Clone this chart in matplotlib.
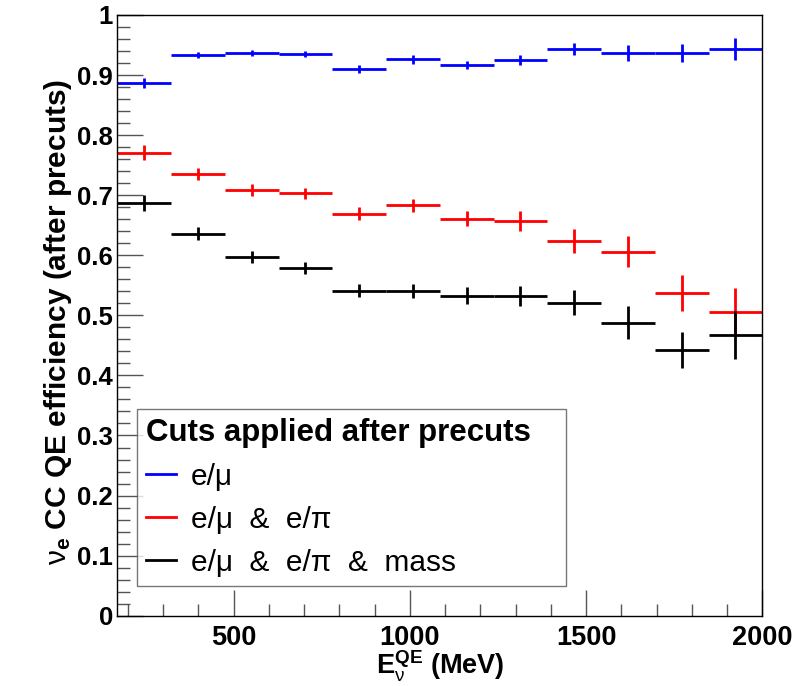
import numpy as np
import matplotlib
matplotlib.use("Agg")
import matplotlib.pyplot as plt
from matplotlib.ticker import MultipleLocator
from matplotlib.lines import Line2D

plt.rcParams['font.family'] = ['Liberation Sans', 'DejaVu Sans']
plt.rcParams['mathtext.fontset'] = 'custom'
plt.rcParams['mathtext.rm'] = 'Liberation Sans'
plt.rcParams['mathtext.bf'] = 'Liberation Sans:bold'
plt.rcParams['mathtext.it'] = 'Liberation Sans:italic'

# bin edges (MeV) and efficiencies
bin_edges = np.linspace(170, 2000, 13)

eff_emu = [0.887, 0.933, 0.937, 0.935, 0.910, 0.926, 0.917, 0.925, 0.943, 0.937, 0.937, 0.943]
err_emu = [0.008, 0.005, 0.005, 0.005, 0.007, 0.007, 0.007, 0.009, 0.010, 0.013, 0.015, 0.018]

eff_emu_epi = [0.771, 0.736, 0.708, 0.703, 0.669, 0.683, 0.661, 0.657, 0.624, 0.606, 0.537, 0.506]
err_emu_epi = [0.012, 0.010, 0.010, 0.009, 0.011, 0.011, 0.013, 0.016, 0.020, 0.026, 0.030, 0.039]

eff_all = [0.687, 0.636, 0.597, 0.579, 0.541, 0.541, 0.533, 0.532, 0.521, 0.488, 0.442, 0.468]
err_all = [0.014, 0.011, 0.010, 0.010, 0.011, 0.012, 0.014, 0.017, 0.021, 0.027, 0.030, 0.040]

series = [
    ("e/\u03bc", eff_emu, err_emu, "#0000ff"),
    ("e/\u03bc  &  e/\u03c0", eff_emu_epi, err_emu_epi, "#ff0000"),
    ("e/\u03bc  &  e/\u03c0  &  mass", eff_all, err_all, "black"),
]

centers = 0.5 * (bin_edges[1:] + bin_edges[:-1])
half_width = 0.5 * np.diff(bin_edges)

W, H = 806, 686
fig = plt.figure(figsize=(W / 100, H / 100), dpi=100)
ax = fig.add_axes([117.3 / W, (H - 615.7) / H, 645 / W, 600.7 / H])

handles = []
for label, vals, errs, color in series:
    ax.errorbar(centers, vals, xerr=half_width, yerr=errs, fmt='none',
                ecolor=color, elinewidth=2, capsize=0)
    handles.append(Line2D([0], [0], color=color, lw=2, label=label))

ax.set_xlim(170, 2000)
ax.set_ylim(0, 1)

ax.xaxis.set_major_locator(MultipleLocator(500))
ax.xaxis.set_minor_locator(MultipleLocator(100))
ax.yaxis.set_major_locator(MultipleLocator(0.1))
ax.yaxis.set_minor_locator(MultipleLocator(0.02))
ax.yaxis.set_major_formatter(plt.FuncFormatter(lambda v, p: ('%g' % round(v, 1))))

ax.tick_params(which='major', direction='in', length=19, width=1, color='#555555',
               top=False, right=False)
ax.tick_params(which='minor', direction='in', length=9, width=1, color='#555555',
               top=False, right=False)
ax.tick_params(axis='x', which='major', labelsize=19.5, pad=6.5)
ax.tick_params(axis='y', which='major', labelsize=18.5, pad=3)
for lab in ax.get_xticklabels() + ax.get_yticklabels():
    lab.set_fontweight('bold')

for sp in ax.spines.values():
    sp.set_linewidth(1)

# axis titles placed in pixels, centred on the axes
fig.text(440 / W, 1 - 675 / H, r'$\mathbf{E}_{\mathrm{\nu}}^{\mathbf{QE}}$ (MeV)', fontsize=19.5,
         fontweight='bold', ha='center', va='baseline')
fig.text(58 / W, 1 - 322 / H, r'$\mathrm{\nu}_{\mathbf{e}}$ CC QE efficiency (after precuts)',
         fontsize=21.5, fontweight='bold', rotation=90, ha='center', va='center')

leg = ax.legend(handles=handles, loc='upper left', bbox_to_anchor=(0.031, 0.344, 0.664, 0.0),
                mode='expand', title='Cuts applied after precuts', fontsize=21.5,
                title_fontproperties={'weight': 'bold', 'size': 22.5},
                frameon=True, fancybox=False, edgecolor='#555555', handlelength=1.0,
                handletextpad=0.5, borderpad=0.3, labelspacing=0.5, borderaxespad=0)
leg._legend_box.align = 'left'
leg.get_frame().set_linewidth(1)

fig.savefig('out.png', dpi=100)
